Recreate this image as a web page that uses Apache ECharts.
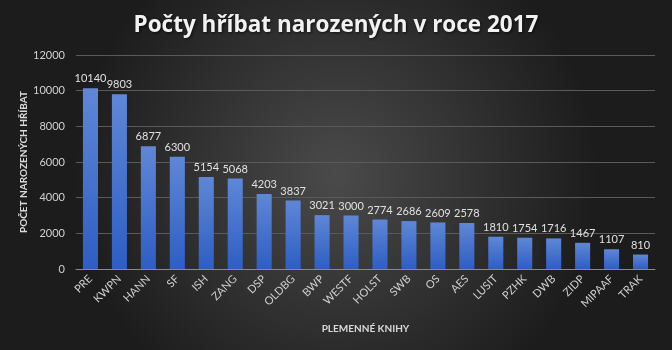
<!DOCTYPE html>
<html><head><meta charset="utf-8">
<script src="https://cdn.jsdelivr.net/npm/echarts@6/dist/echarts.min.js"></script>
<style>html,body{margin:0;padding:0;}#c{width:672px;height:350px;}</style>
</head><body><div id="c"></div>
<script>
const categories = ['PRE','KWPN','HANN','SF','ISH','ZANG','DSP','OLDBG','BWP','WESTF','HOLST','SWB','OS','AES','LUSIT','PZHK','DWB','ZIDP','MIPAAF','TRAK'];
const values = [10140,9803,6877,6300,5154,5068,4203,3837,3021,3000,2774,2686,2609,2578,1810,1754,1716,1467,1107,810];
const yTicks = [0,2000,4000,6000,8000,10000,12000];
const titleText = 'Počty hříbat narozených v roce 2017';
const yName = 'POČET NAROZENÝCH HŘÍBAT';
const xName = 'PLEMENNÉ KNIHY';

const chart = echarts.init(document.getElementById('c'), null, {renderer:'canvas'});
const font = 'Lato, "Open Sans", sans-serif';
chart.setOption({
  animation:false,
  backgroundColor:{type:'radial',x:0.5,y:0.5,r:0.75,colorStops:[{offset:0,color:'#4a4a4a'},{offset:1,color:'#1c1c1c'}]},
  title:{text:titleText,left:'center',top:9,textStyle:{color:'#f2f2f2',fontSize:22.5,fontWeight:'bold',fontFamily:'"Open Sans", sans-serif',
    textShadowColor:'rgba(0,0,0,0.7)',textShadowBlur:3,textShadowOffsetX:1,textShadowOffsetY:1}},
  grid:{left:76,right:17,top:55,bottom:81,containLabel:false},
  xAxis:{type:'category',data:categories,name:xName,nameLocation:'middle',nameGap:55,nameMoveOverlap:false,
    nameTextStyle:{color:'#d9d9d9',fontSize:10,fontWeight:'bold',fontFamily:font},
    axisLine:{lineStyle:{color:'#8a8a8a'}},axisTick:{show:false},
    axisLabel:{color:'#d0d0d0',fontSize:11,fontFamily:font,rotate:45,interval:0,margin:8}},
  yAxis:{type:'value',min:yTicks[0],max:yTicks[yTicks.length-1],interval:2000,name:yName,nameLocation:'middle',nameGap:47,nameMoveOverlap:false,
    nameTextStyle:{color:'#d9d9d9',fontSize:10,fontWeight:'bold',fontFamily:font},
    axisLine:{show:false},axisTick:{show:false},
    splitLine:{lineStyle:{color:'#5a5a5a'}},
    axisLabel:{color:'#d0d0d0',fontSize:11,fontFamily:font,margin:11,formatter:v=>String(v)}},
  series:[{type:'bar',data:values,barWidth:'52%',
    itemStyle:{color:{type:'linear',x:0,y:0,x2:0,y2:1,colorStops:[{offset:0,color:'#5f87d6'},{offset:1,color:'#2e5ec4'}]}},
    label:{show:true,position:'top',color:'#e0e0e0',fontSize:11,fontFamily:font,distance:4}}]
});
</script></body></html>
